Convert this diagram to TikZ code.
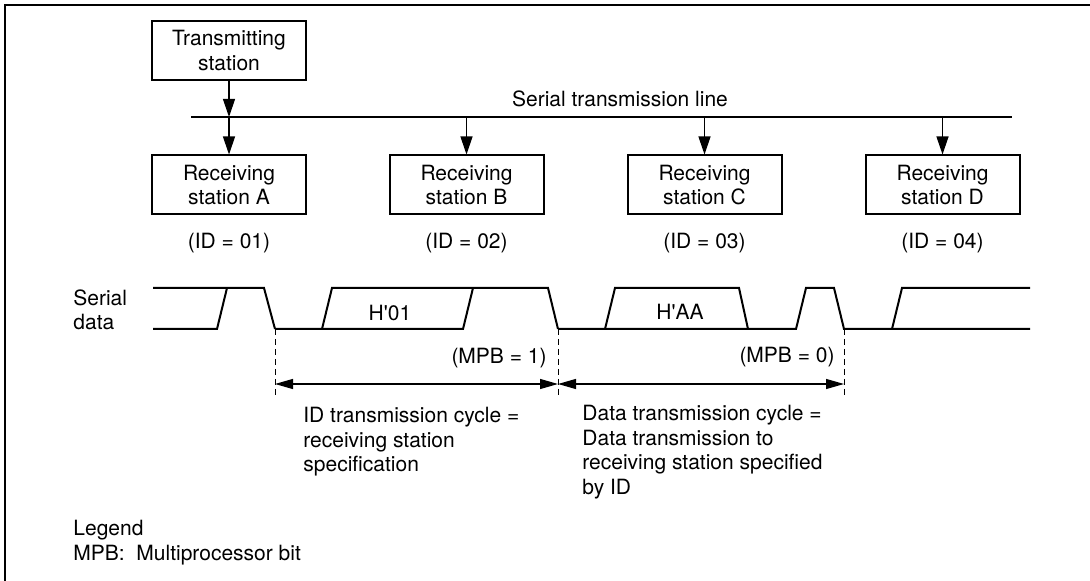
\documentclass[tikz,border=0pt]{standalone}
\usepackage{fontspec}
\setmainfont{TeX Gyre Heros}
\usetikzlibrary{arrows.meta, positioning, calc}

\begin{document}
\begin{tikzpicture}[
  x=0.5pt, y=-0.5pt,
  font=\fontsize{10.5}{12.25}\selectfont,
  stbox/.style={draw, line width=1pt, minimum width=77pt, minimum height=29.5pt, align=center, inner sep=0pt},
  tap/.style={line width=0.6pt, -{Triangle[length=9pt, width=6pt]}},
  cyclearrow/.style={line width=0.6pt, {Triangle[length=9pt, width=5pt]}-{Triangle[length=9pt, width=5pt]}},
  wave/.style={line width=1pt},
  guide/.style={line width=0.5pt, dash pattern=on 3pt off 2pt},
  lbl/.style={inner sep=0pt, align=left}
]
  \useasboundingbox (0,0) rectangle (1090,581);
  % frame
  \draw[line width=1pt] (5,581) -- (5,5) -- (1090,5);

  % stations and transmission line
  \node[stbox] (tx) at (229,50.5) {Transmitting\\station};
  \coordinate (busL) at (191,117);
  \coordinate (busR) at (1012,117);
  \draw[line width=0.6pt] (busL) -- (busR);
  \node[lbl] (busname) at (620,99) {Serial transmission line};
  \draw[tap] (tx.south) -- (tx.south |- busL);

  \foreach \n/\x/\id in {A/229/01, B/466.5/02, C/704.5/03, D/942.5/04} {
    \node[stbox] (rx\n) at (\x,185) {Receiving\\station \n};
    \node[lbl] (id\n) at (\x,243) {(ID = \id)};
    \draw[tap] (rx\n.north |- busL) -- (rx\n.north);
  }

  % serial data waveform
  \node[lbl, anchor=north west] (sdata) at (73,289) {Serial\\data};
  \draw[wave] (153,288) -- (264,288) -- (275,329);
  \draw[wave] (153,329) -- (217,329) -- (227,288);
  \draw[wave] (275,329) -- (463,329) -- (473,288);
  \draw[wave] (322,329) -- (332,288) -- (548,288) -- (558,329);
  \draw[wave] (558,329) -- (796,329) -- (806,288) -- (834,288) -- (844,329) -- (1030,329);
  \draw[wave] (605,329) -- (615,288) -- (739,288) -- (748,329);
  \draw[wave] (892,329) -- (902,288) -- (1030,288);
  \node[lbl] (byteid) at (390,313) {H\textquotesingle01};
  \node[lbl] (bytedata) at (680,312) {H\textquotesingle AA};

  % cycle markers
  \foreach \t/\x in {0/275, 1/558, 2/844} {
    \coordinate (t\t) at (\x,329);
    \coordinate (te\t) at (\x,398);
    \coordinate (a\t) at (\x,384);
    \draw[guide] (t\t) -- (te\t);
  }
  \node[lbl, anchor=east] (mpb1) at (547,358) {(MPB = 1)};
  \node[lbl, anchor=east] (mpb0) at (835,357) {(MPB = 0)};
  \draw[cyclearrow] (a0) -- (a1);
  \draw[cyclearrow] (a1) -- (a2);

  \node[lbl, anchor=north west] (idcycle) at (303,407) {ID transmission cycle =\\receiving station\\specification};
  \node[lbl, anchor=north west] (datacycle) at (582,405) {Data transmission cycle =\\Data transmission to\\receiving station specified\\by ID};

  % legend
  \node[lbl, anchor=north west] (legend) at (73,520) {Legend\\MPB:~~Multiprocessor bit};
\end{tikzpicture}
\end{document}
